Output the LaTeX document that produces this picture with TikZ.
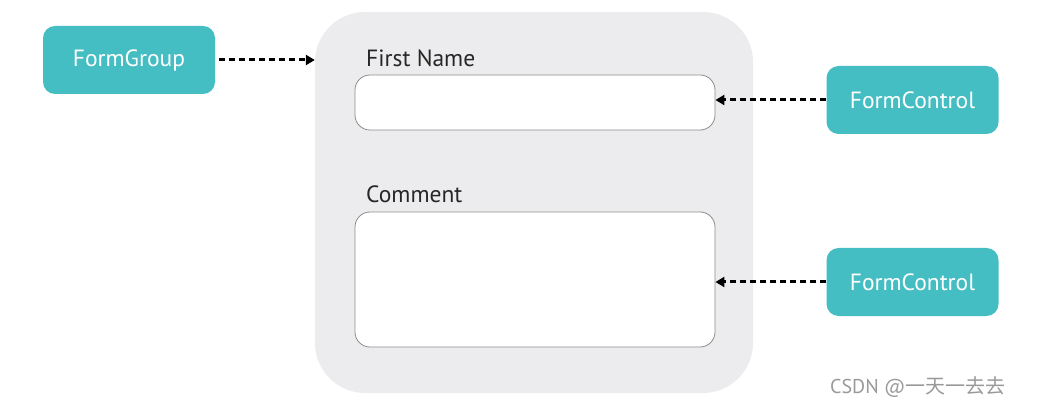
\documentclass[tikz,border=0pt]{standalone}
\usepackage{fontspec}
\setmainfont{PT Sans}
\newfontfamily\cjk{Noto Sans CJK SC}
\usetikzlibrary{arrows.meta}
\definecolor{teal1}{RGB}{69,190,195}
\definecolor{panel}{RGB}{236,236,238}
\definecolor{edge}{RGB}{140,140,140}
\tikzset{
  tealbox/.style={fill=teal1, draw=none, rounded corners=12pt, text=white,
    minimum width=172pt, minimum height=68pt, font=\fontsize{23.5}{28}\selectfont},
  field/.style={fill=white, draw=edge, line width=0.8pt, rounded corners=15pt},
  lbl/.style={anchor=base west, text=black!85, font=\fontsize{23.5}{28}\selectfont, inner sep=0pt},
  link/.style={line width=3pt, dash pattern=on 6pt off 4pt, -{Triangle[length=9pt,width=10pt]}}
}
\begin{document}
\begin{tikzpicture}[x=1pt,y=-1pt]
\useasboundingbox (0,0) rectangle (1042,406);
\node[fill=panel, rounded corners=50pt, minimum width=438pt, minimum height=381pt, inner sep=0pt] (panel) at (534,202.5) {};
\node[field, minimum width=360pt, minimum height=55pt, inner sep=0pt] (f1) at (535,102.5) {};
\node[field, minimum width=360pt, minimum height=135pt, inner sep=0pt] (f2) at (535,279.5) {};
\node[lbl] (l1) at (366,67) {First Name};
\node[lbl] (l2) at (366,203) {Comment};
\node[tealbox] (fg) at (129,60) {FormGroup};
\node[tealbox] (fc1) at (912.5,100) {FormControl};
\node[tealbox] (fc2) at (912.5,282) {FormControl};
\coordinate (p1) at (panel.west |- fg);
\draw[link] ([xshift=4pt]fg.east) -- (p1);
\draw[link] (fc1.west) -- (f1.east |- fc1);
\draw[link] (fc2.west) -- (f2.east |- fc2);
\node[anchor=base west, text=black!40, font=\fontsize{20}{24}\selectfont, inner sep=0pt] (wm) at (830,393) {CSDN @\cjk 一天一去去};
\end{tikzpicture}
\end{document}
